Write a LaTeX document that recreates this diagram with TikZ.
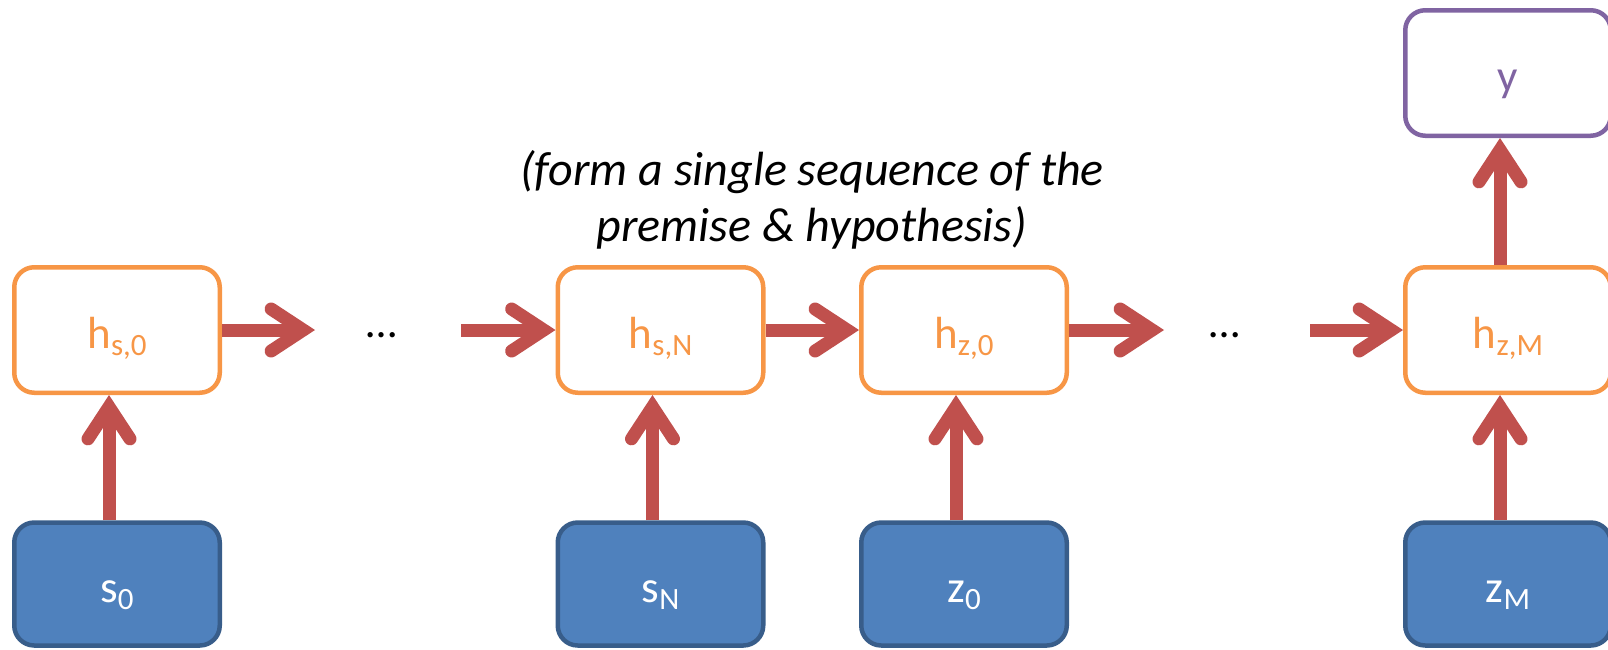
\documentclass[tikz,border=0pt]{standalone}
\usepackage{fontspec}
\setmainfont{Carlito}
\usetikzlibrary{arrows.meta}
\definecolor{orng}{HTML}{F79646}
\definecolor{arrred}{HTML}{C0504D}
\definecolor{blu}{HTML}{4F81BD}
\definecolor{bluedge}{HTML}{385D8A}
\definecolor{purp}{HTML}{8064A2}
\newcommand{\mysubs}[1]{\raisebox{-7pt}{\fontsize{31}{31}\selectfont #1}}
\begin{document}
\begin{tikzpicture}[x=1pt,y=-1pt,
  boxbase/.style={line width=4.5pt, rounded corners=20pt, minimum width=205.5pt,
    minimum height=125.5pt, inner sep=0pt, font=\fontsize{45}{45}\selectfont,
    text height=36pt, text depth=0pt},
  hbox/.style={boxbase, draw=orng, fill=white, text=orng},
  inbox/.style={boxbase, draw=bluedge, fill=blu, text=white, minimum height=123pt},
  ybox/.style={boxbase, draw=purp, fill=white, text=purp},
  arr/.style={draw=arrred, line width=13pt,
    -{Straight Barb[length=32pt,width=42pt,line cap=round,line join=miter]}},
  dotsnode/.style={anchor=base, inner sep=0pt, font=\fontsize{44}{44}\selectfont}
]
\useasboundingbox (0,0) rectangle (1608,649);

% hidden states
\node[hbox] (hs0) at (117,330) {h\mysubs{s,0}};
\node[hbox] (hsN) at (660.5,330) {h\mysubs{s,N}};
\node[hbox] (hz0) at (964,330) {h\mysubs{z,0}};
\node[hbox] (hzM) at (1508,330) {h\mysubs{z,M}};
% inputs
\node[inbox] (s0) at (117,584) {s\mysubs{0}};
\node[inbox] (sN) at (660.5,584) {s\mysubs{N}};
\node[inbox] (z0) at (964,584) {z\mysubs{0}};
\node[inbox] (zM) at (1508,584) {z\mysubs{M}};
% output
\node[ybox] (y) at (1508,73) {y};

% dots
\node[dotsnode] (d1) at (382,337) {…};
\node[dotsnode] (d2) at (1225,337) {…};

\coordinate (e1) at (315,330);
\coordinate (b2) at (461,330);
\coordinate (e4) at (1164,330);
\coordinate (b5) at (1310,330);

% horizontal arrows
\draw[arr] (hs0.east) -- (e1);
\draw[arr] (b2) -- (hsN.west);
\draw[arr] (hsN.east) -- (hz0.west);
\draw[arr] (hz0.east) -- (e4);
\draw[arr] (b5) -- (hzM.west);

% vertical arrows
\draw[arr] ([xshift=-8pt]s0.north) -- ([xshift=-8pt]hs0.south);
\draw[arr] ([xshift=-8pt]sN.north) -- ([xshift=-8pt]hsN.south);
\draw[arr] ([xshift=-8pt]z0.north) -- ([xshift=-8pt]hz0.south);
\draw[arr] ([xshift=-8pt]zM.north) -- ([xshift=-8pt]hzM.south);
\draw[arr] ([xshift=-8pt]hzM.north) -- ([xshift=-8pt]y.south);

% caption
\node[align=center, inner sep=0pt, font=\fontsize{48}{56}\selectfont\itshape] (cap) at (812,200)
  {(form a single sequence of the\\premise \& hypothesis)};
\end{tikzpicture}
\end{document}
